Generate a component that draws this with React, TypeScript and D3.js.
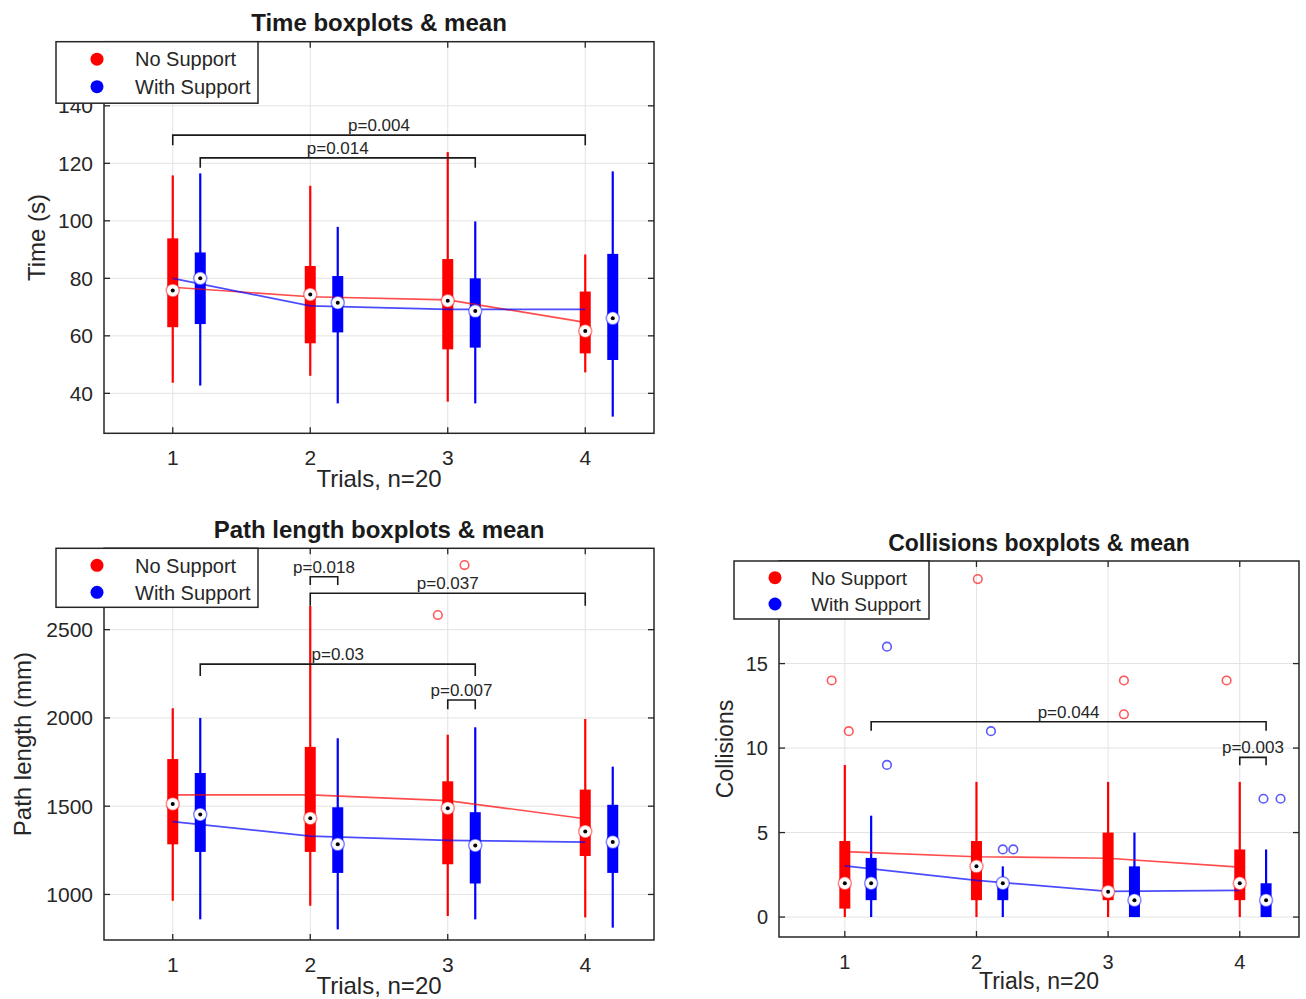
import React from "react";
import * as d3 from "d3";

// ---------- data ----------
const trials = [1, 2, 3, 4];
const xTickLabels = ["1", "2", "3", "4"];
const seriesNames = ["No Support", "With Support"];
const seriesColors = ["#ff0000", "#0000ff"];
const seriesOffsets = [0, 0.2];

// box stats per trial: [lowWhisker, q1, median, q3, highWhisker]
const timeNoSupport = [
  [43.7, 63, 75.8, 93.9, 115.8],
  [46.1, 57.4, 74.4, 84.3, 112.2],
  [37.1, 55.3, 72.2, 86.7, 123.9],
  [47.3, 53.9, 61.7, 75.4, 88.3],
];
const timeWithSupport = [
  [42.7, 64.1, 80, 89, 116.5],
  [36.5, 61.2, 71.5, 80.8, 97.9],
  [36.5, 55.9, 68.6, 80, 99.8],
  [31.9, 51.6, 66.1, 88.5, 117.2],
];
const timeMeanNo = [76.9, 73.6, 72.5, 64.7];
const timeMeanWith = [80, 70.4, 69.2, 69.2];
const timeYTicks = [40, 60, 80, 100, 120, 140];
// [x1, x2, lineValue, endValue, label]
const timeBrackets: [number, number, number, number, string][] = [
  [1, 4, 129.8, 126.3, "p=0.004"],
  [1.2, 3.2, 121.9, 118.5, "p=0.014"],
];

const pathNoSupport = [
  [964, 1284, 1513, 1767, 2055],
  [936, 1241, 1432, 1836, 2634],
  [878, 1171, 1489, 1641, 1905],
  [870, 1218, 1357, 1594, 1994],
];
const pathWithSupport = [
  [859, 1241, 1453, 1688, 2000],
  [802, 1122, 1284, 1494, 1885],
  [859, 1062, 1278, 1466, 1947],
  [812, 1122, 1297, 1508, 1724],
];
const pathMeanNo = [1564, 1564, 1532, 1429];
const pathMeanWith = [1413, 1331, 1306, 1297];
const pathOutliersNo: [number, number][] = [
  [2.928, 2583],
  [3.122, 2866],
];
const pathOutliersWith: [number, number][] = [];
const pathYTicks = [1000, 1500, 2000, 2500];
const pathBrackets: [number, number, number, number, string][] = [
  [2, 2.2, 2800, 2753, "p=0.018"],
  [2, 4, 2706, 2636, "p=0.037"],
  [1.2, 3.2, 2305, 2238, "p=0.03"],
  [3, 3.2, 2102, 2049, "p=0.007"],
];

const collNoSupport = [
  [0, 0.5, 2, 4.5, 9],
  [0, 1, 3, 4.5, 8],
  [0, 1, 1.5, 5, 8],
  [0, 1, 2, 4, 8],
];
const collWithSupport = [
  [0, 1, 2, 3.5, 6],
  [0, 1, 2, 2, 3],
  [0, 0, 1, 3, 5],
  [0, 0, 1, 2, 4],
];
const collMeanNo = [3.87, 3.57, 3.48, 2.95];
const collMeanWith = [3.03, 2.17, 1.52, 1.58];
const collOutliersNo: [number, number][] = [
  [0.9, 14],
  [1.03, 11],
  [2.01, 20],
  [3.12, 14],
  [3.12, 12],
  [3.9, 14],
];
const collOutliersWith: [number, number][] = [
  [1.32, 16],
  [1.32, 9],
  [2.11, 11],
  [2.2, 4],
  [2.28, 4],
  [4.18, 7],
  [4.31, 7],
];
const collYTicks = [0, 5, 10, 15];
const collBrackets: [number, number, number, number, string][] = [
  [1.2, 4.2, 11.56, 11.03, "p=0.044"],
  [4, 4.2, 9.45, 8.99, "p=0.003"],
];

// ---------- drawing ----------
const FONT = "'Liberation Sans', Arial, Helvetica, sans-serif";
const TXT = "#262626";

type PanelProps = {
  title: string;
  yLabel: string;
  left: number;
  right: number;
  top: number;
  bottom: number;
  xDomain: [number, number];
  yDomain: [number, number];
  yTicks: number[];
  boxes: number[][][];
  means: number[][];
  outliers: [number, number][][];
  brackets: [number, number, number, number, string][];
  tickFont: number;
  labelFont: number;
  titleFont: number;
  legendFont: number;
  titleBaseline: number;
  yLabelX: number;
  xLabelDy: number;
  legend: { x: number; y: number; w: number; h: number; dotDx: number; dy1: number; dy2: number; textDx: number };
};

function Panel(p: PanelProps) {
  const x = d3.scaleLinear().domain(p.xDomain).range([p.left, p.right]);
  const y = d3.scaleLinear().domain(p.yDomain).range([p.bottom, p.top]);
  const line = d3
    .line<number>()
    .x((_, i) => x(trials[i]))
    .y((d) => y(d));
  const cx = (p.left + p.right) / 2;
  const cy = (p.top + p.bottom) / 2;
  const tickLen = 6;
  const boxW = 11;

  return (
    <g>
      {/* grid */}
      {trials.map((t) => (
        <line key={"gx" + t} x1={x(t)} x2={x(t)} y1={p.top} y2={p.bottom} stroke="#e3e3e3" strokeWidth={1} />
      ))}
      {p.yTicks.map((t) => (
        <line key={"gy" + t} x1={p.left} x2={p.right} y1={y(t)} y2={y(t)} stroke="#e3e3e3" strokeWidth={1} />
      ))}
      {/* boxes */}
      {p.boxes.map((series, si) =>
        series.map((b, ti) => {
          const bx = x(trials[ti] + seriesOffsets[si]);
          return (
            <g key={"b" + si + "-" + ti}>
              <line x1={bx} x2={bx} y1={y(b[0])} y2={y(b[4])} stroke={seriesColors[si]} strokeWidth={2.2} />
              <rect
                x={bx - boxW / 2}
                y={y(b[3])}
                width={boxW}
                height={Math.max(0, y(b[1]) - y(b[3]))}
                fill={seriesColors[si]}
              />
            </g>
          );
        })
      )}
      {/* outliers */}
      {p.outliers.map((series, si) =>
        series.map((o, oi) => (
          <circle
            key={"o" + si + "-" + oi}
            cx={x(o[0])}
            cy={y(o[1])}
            r={4.3}
            fill="none"
            stroke={seriesColors[si]}
            strokeOpacity={0.65}
            strokeWidth={1.6}
          />
        ))
      )}
      {/* mean lines */}
      {p.means.map((m, si) => (
        <path key={"m" + si} d={line(m) || ""} fill="none" stroke={seriesColors[si]} strokeOpacity={0.7} strokeWidth={1.7} />
      ))}
      {/* medians */}
      {p.boxes.map((series, si) =>
        series.map((b, ti) => {
          const bx = x(trials[ti] + seriesOffsets[si]);
          return (
            <g key={"md" + si + "-" + ti}>
              <circle cx={bx} cy={y(b[2])} r={6.5} fill="#ffffff" stroke={seriesColors[si]} strokeOpacity={0.45} strokeWidth={1.6} />
              <circle cx={bx} cy={y(b[2])} r={2} fill="#000" />
            </g>
          );
        })
      )}
      {/* brackets */}
      {p.brackets.map((br, i) => {
        const x1 = x(br[0]);
        const x2 = x(br[1]);
        const yl = y(br[2]);
        const ye = y(br[3]);
        return (
          <g key={"br" + i}>
            <path d={`M${x1},${ye}V${yl}H${x2}V${ye}`} fill="none" stroke="#1a1a1a" strokeWidth={1.6} />
            <text x={(x1 + x2) / 2} y={yl - 4} textAnchor="middle" fontFamily={FONT} fontSize={17} fill={TXT}>
              {br[4]}
            </text>
          </g>
        );
      })}
      {/* frame */}
      <rect x={p.left} y={p.top} width={p.right - p.left} height={p.bottom - p.top} fill="none" stroke="#262626" strokeWidth={1.5} />
      {/* ticks */}
      {trials.map((t) => (
        <g key={"tx" + t}>
          <line x1={x(t)} x2={x(t)} y1={p.bottom} y2={p.bottom - tickLen} stroke="#262626" strokeWidth={1.3} />
          <line x1={x(t)} x2={x(t)} y1={p.top} y2={p.top + tickLen} stroke="#262626" strokeWidth={1.3} />
        </g>
      ))}
      {p.yTicks.map((t) => (
        <g key={"ty" + t}>
          <line x1={p.left} x2={p.left + tickLen} y1={y(t)} y2={y(t)} stroke="#262626" strokeWidth={1.3} />
          <line x1={p.right} x2={p.right - tickLen} y1={y(t)} y2={y(t)} stroke="#262626" strokeWidth={1.3} />
        </g>
      ))}
      {/* tick labels */}
      {trials.map((t, i) => (
        <text key={"lx" + t} x={x(t)} y={p.bottom + 32} textAnchor="middle" fontFamily={FONT} fontSize={p.tickFont} fill={TXT}>
          {xTickLabels[i]}
        </text>
      ))}
      {p.yTicks.map((t) => (
        <text
          key={"ly" + t}
          x={p.left - 11}
          y={y(t) + p.tickFont * 0.36}
          textAnchor="end"
          fontFamily={FONT}
          fontSize={p.tickFont}
          fill={TXT}
        >
          {String(t)}
        </text>
      ))}
      {/* labels */}
      <text x={cx} y={p.bottom + p.xLabelDy} textAnchor="middle" fontFamily={FONT} fontSize={p.labelFont} fill={TXT}>
        Trials, n=20
      </text>
      <text
        transform={`translate(${p.yLabelX},${cy}) rotate(-90)`}
        textAnchor="middle"
        fontFamily={FONT}
        fontSize={p.labelFont}
        fill={TXT}
      >
        {p.yLabel}
      </text>
      <text x={cx} y={p.titleBaseline} textAnchor="middle" fontFamily={FONT} fontSize={p.titleFont} fontWeight="bold" fill="#1a1a1a">
        {p.title}
      </text>
      {/* legend */}
      <g>
        <rect x={p.legend.x} y={p.legend.y} width={p.legend.w} height={p.legend.h} fill="#ffffff" stroke="#262626" strokeWidth={1.5} />
        {seriesNames.map((n, i) => {
          const dy = i === 0 ? p.legend.dy1 : p.legend.dy2;
          return (
            <g key={"lg" + i}>
              <circle cx={p.legend.x + p.legend.dotDx} cy={p.legend.y + dy} r={6.5} fill={seriesColors[i]} />
              <text
                x={p.legend.x + p.legend.textDx}
                y={p.legend.y + dy + p.legendFont * 0.36}
                fontFamily={FONT}
                fontSize={p.legendFont}
                fill={TXT}
              >
                {n}
              </text>
            </g>
          );
        })}
      </g>
    </g>
  );
}

export default function App() {
  return (
    <svg
      width={1306}
      height={999}
      style={{ position: "absolute", left: 0, top: 0, background: "#ffffff" }}
      xmlns="http://www.w3.org/2000/svg"
    >
      <rect x={0} y={0} width={1306} height={999} fill="#ffffff" />
      <Panel
        title="Time boxplots & mean"
        yLabel="Time (s)"
        left={104}
        right={654}
        top={41.7}
        bottom={433.3}
        xDomain={[0.5, 4.5]}
        yDomain={[26.1, 162.3]}
        yTicks={timeYTicks}
        boxes={[timeNoSupport, timeWithSupport]}
        means={[timeMeanNo, timeMeanWith]}
        outliers={[[], []]}
        brackets={timeBrackets}
        tickFont={21}
        labelFont={24}
        titleFont={24}
        legendFont={20}
        titleBaseline={31}
        yLabelX={45}
        xLabelDy={54}
        legend={{ x: 56, y: 41.7, w: 202, h: 61.5, dotDx: 41, dy1: 17.5, dy2: 45, textDx: 79 }}
      />
      <Panel
        title="Path length boxplots & mean"
        yLabel="Path length (mm)"
        left={104}
        right={654}
        top={548.3}
        bottom={940}
        xDomain={[0.5, 4.5]}
        yDomain={[742, 2961]}
        yTicks={pathYTicks}
        boxes={[pathNoSupport, pathWithSupport]}
        means={[pathMeanNo, pathMeanWith]}
        outliers={[pathOutliersNo, pathOutliersWith]}
        brackets={pathBrackets}
        tickFont={21}
        labelFont={24}
        titleFont={24}
        legendFont={20}
        titleBaseline={538}
        yLabelX={31}
        xLabelDy={54}
        legend={{ x: 56, y: 548.3, w: 202, h: 59, dotDx: 41, dy1: 17, dy2: 44, textDx: 79 }}
      />
      <Panel
        title="Collisions boxplots & mean"
        yLabel="Collisions"
        left={779}
        right={1299}
        top={561}
        bottom={937}
        xDomain={[0.5, 4.45]}
        yDomain={[-1.18, 21.07]}
        yTicks={collYTicks}
        boxes={[collNoSupport, collWithSupport]}
        means={[collMeanNo, collMeanWith]}
        outliers={[collOutliersNo, collOutliersWith]}
        brackets={collBrackets}
        tickFont={20}
        labelFont={23}
        titleFont={23}
        legendFont={19}
        titleBaseline={551}
        yLabelX={733}
        xLabelDy={52}
        legend={{ x: 734, y: 561, w: 195, h: 58, dotDx: 41, dy1: 16.7, dy2: 43, textDx: 77 }}
      />
    </svg>
  );
}
